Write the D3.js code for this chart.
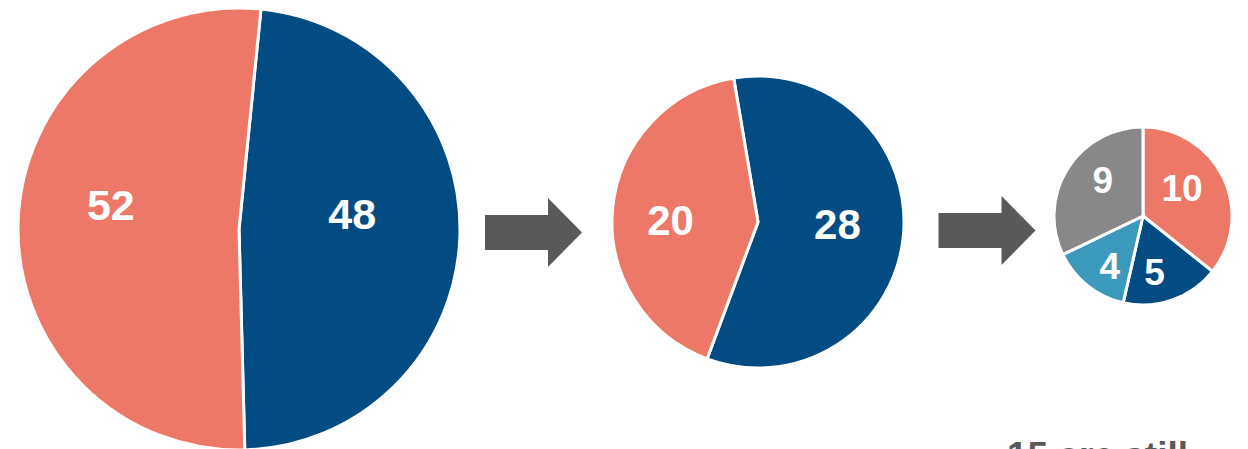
<!DOCTYPE html>
<html>
<head>
<meta charset="utf-8">
<script src="https://cdn.jsdelivr.net/npm/d3@7"></script>
<style>
  html, body { margin: 0; padding: 0; background: #fff; overflow: hidden; }
  svg { display: block; }
  text { font-family: "Liberation Sans", Arial, sans-serif; font-weight: bold; }
</style>
</head>
<body>
<svg id="chart" width="1248" height="449"></svg>
<script>
// ---- data ----
const pie1Categories = ["Group B", "Group A"];
const pie1Values = [48, 52];
const pie2Categories = ["Group B", "Group A"];
const pie2Values = [28, 20];
const pie3Categories = ["A", "B", "C", "D"];
const pie3Values = [10, 5, 4, 9];
const footnoteText = "15 are still";

// ---- styling / layout ----
const colorMap = {
  "Group A": "#EE7867", "Group B": "#034C83",
  "A": "#EE7867", "B": "#034C83", "C": "#3B9ABC", "D": "#888888"
};
const deg = Math.PI / 180;
const pies = [
  { cats: pie1Categories, vals: pie1Values, cx: 239, cy: 229, r: 221, start: 5.7, lr: 0.585, fs: 43, nudge: [[-16, -20], [1, -20]] },
  { cats: pie2Categories, vals: pie2Values, cx: 758, cy: 222, r: 146, start: -9.6, lr: 0.56, fs: 42, nudge: [[-2, -6], [-6, 6]] },
  { cats: pie3Categories, vals: pie3Values, cx: 1143, cy: 216, r: 89, start: 0, lr: 0.6, fs: 37, nudge: [[-9, -5], [-6, 5], [0, 8], [5, -8]] }
];

const svg = d3.select("#chart");

pies.forEach(p => {
  const layout = d3.pie().sort(null).value(d => d.v)
    .startAngle(p.start * deg).endAngle(p.start * deg + 2 * Math.PI);
  const data = layout(p.cats.map((c, i) => ({ c, v: p.vals[i] })));
  const arc = d3.arc().innerRadius(0).outerRadius(p.r);
  const labelArc = d3.arc().innerRadius(p.r * p.lr).outerRadius(p.r * p.lr);
  const g = svg.append("g").attr("transform", `translate(${p.cx},${p.cy})`);
  g.selectAll("path").data(data).join("path")
    .attr("d", arc)
    .attr("fill", d => colorMap[d.data.c])
    .attr("stroke", "#fff")
    .attr("stroke-width", 3)
    .attr("stroke-linejoin", "miter");
  g.selectAll("text").data(data).join("text")
    .attr("x", (d, i) => labelArc.centroid(d)[0] + p.nudge[i][0])
    .attr("y", (d, i) => labelArc.centroid(d)[1] + p.nudge[i][1])
    .attr("text-anchor", "middle")
    .attr("dy", "0.36em")
    .attr("fill", "#fff")
    .attr("font-size", p.fs)
    .text(d => d.data.v);
});

// arrows
function arrow(x0, cy) {
  const shaftH = 35, headH = 69, shaftL = 63, headL = 34;
  const pts = [
    [x0, cy - shaftH / 2], [x0 + shaftL, cy - shaftH / 2], [x0 + shaftL, cy - headH / 2],
    [x0 + shaftL + headL, cy], [x0 + shaftL, cy + headH / 2], [x0 + shaftL, cy + shaftH / 2],
    [x0, cy + shaftH / 2]
  ];
  svg.append("path").attr("d", d3.line()(pts) + "Z").attr("fill", "#595959");
}
arrow(485, 232.5);
arrow(938.5, 230.5);

svg.append("text")
  .attr("x", 1007)
  .attr("y", 467.5)
  .attr("fill", "#595959")
  .attr("font-size", 37)
  .text(footnoteText);
</script>
</body>
</html>
